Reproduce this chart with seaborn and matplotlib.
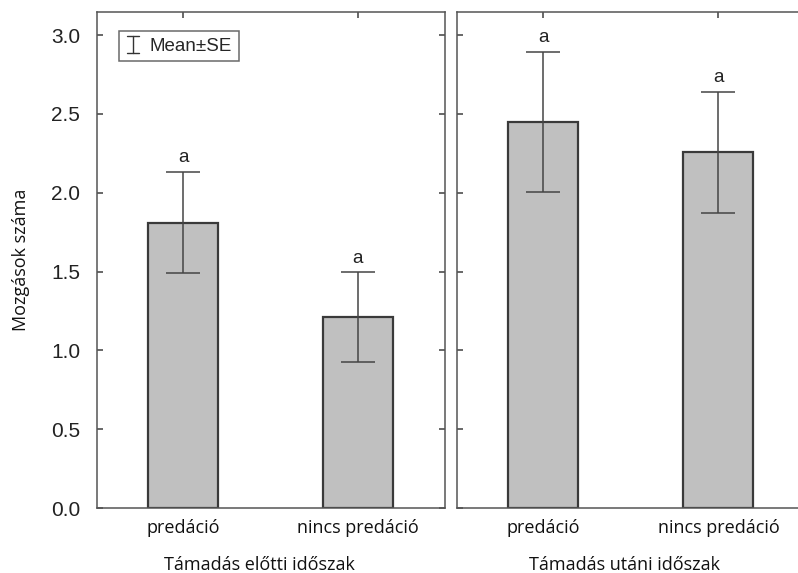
import matplotlib
matplotlib.use("Agg")
import matplotlib.pyplot as plt
import matplotlib.lines as mlines
from matplotlib.legend_handler import HandlerBase
import seaborn as sns
import pandas as pd
import numpy as np

# Data
categories = ["predáció", "nincs predáció"]
periods = ["Támadás előtti időszak", "Támadás utáni időszak"]
means_before = [1.81, 1.21]
se_before = [0.32, 0.285]
means_after = [2.45, 2.255]
se_after = [0.445, 0.385]
letters_before = ["a", "a"]
letters_after = ["a", "a"]
y_ticks = [0.0, 0.5, 1.0, 1.5, 2.0, 2.5, 3.0]

sns.set_theme(style="white")
plt.rcParams['font.family'] = ['Liberation Sans', 'DejaVu Sans']


class HandlerIBeam(HandlerBase):
    def create_artists(self, legend, orig_handle, xdescent, ydescent,
                       width, height, fontsize, trans):
        cx = width / 2 - xdescent
        y0 = -ydescent - height * 0.15
        y1 = -ydescent + height * 1.1
        hw = width * 0.42
        kw = dict(color="#333333", lw=1.0, transform=trans)
        return [
            mlines.Line2D([cx, cx], [y0, y1], **kw),
            mlines.Line2D([cx - hw, cx + hw], [y0, y0], **kw),
            mlines.Line2D([cx - hw, cx + hw], [y1, y1], **kw),
        ]


W, H = 798, 573
fig = plt.figure(figsize=(W / 100, H / 100), dpi=100)

bot = (H - 508) / H
hgt = 496 / H
ax1 = fig.add_axes([97 / W, bot, 348 / W, hgt])
ax2 = fig.add_axes([457 / W, bot, 349 / W, hgt])

label_font = ['Open Sans', 'DejaVu Sans']
edge = "#3a3a3a"

for ax, means, ses, letters, period, lx in [
    (ax1, means_before, se_before, letters_before, periods[0], 0.466),
    (ax2, means_after, se_after, letters_after, periods[1], 0.481),
]:
    df = pd.DataFrame({"cat": categories, "val": means})
    sns.barplot(data=df, x="cat", y="val", ax=ax, color="#c0c0c0",
                saturation=1, width=0.40, errorbar=None,
                edgecolor=edge, linewidth=1.6)
    ax.errorbar(np.arange(len(means)), means, yerr=ses, fmt="none",
                ecolor="#454545", elinewidth=1.1, capsize=12.5,
                capthick=1.1, zorder=5)
    for i, (m, s, l) in enumerate(zip(means, ses, letters)):
        ax.text(i, m + s + 0.09, l, ha="center", va="center",
                fontsize=13.5, color="#222222")
    ax.set_ylim(0, 3.146)
    ax.set_xlim(-0.493, 1.5)
    ax.set_yticks(y_ticks)
    ax.set_xlabel(period, fontsize=13, family=label_font, color="#111111")
    ax.xaxis.set_label_coords(lx, -0.096)
    ax.tick_params(axis="x", direction="in", length=4, top=True, bottom=True,
                   labelsize=13, pad=8, color="#555555", labelcolor="#111111")
    ax.tick_params(axis="y", direction="in", length=4, left=True, right=True,
                   labelsize=15, pad=12, color="#555555", labelcolor="#222222")
    for lab in ax.get_xticklabels():
        lab.set_family(label_font)
    for sp in ax.spines.values():
        sp.set_color("#555555")
        sp.set_linewidth(1.1)
        sp.set_visible(True)
    if ax is ax1:
        ax.set_ylabel("Mozgások száma", fontsize=13, family=label_font,
                      color="#111111", labelpad=15)
        handle = mlines.Line2D([], [])
        leg = ax.legend([handle], ["Mean±SE"], loc="upper left",
                        handler_map={mlines.Line2D: HandlerIBeam()},
                        bbox_to_anchor=(0.063, 0.962), borderaxespad=0,
                        fancybox=False, frameon=True, fontsize=13.5,
                        handlelength=0.8, handletextpad=0.5, borderpad=0.35,
                        edgecolor="#444444")
        leg.get_frame().set_linewidth(1.1)
    else:
        ax.set_ylabel("")
        ax.set_yticklabels([])

fig.savefig("out.png", dpi=100)
